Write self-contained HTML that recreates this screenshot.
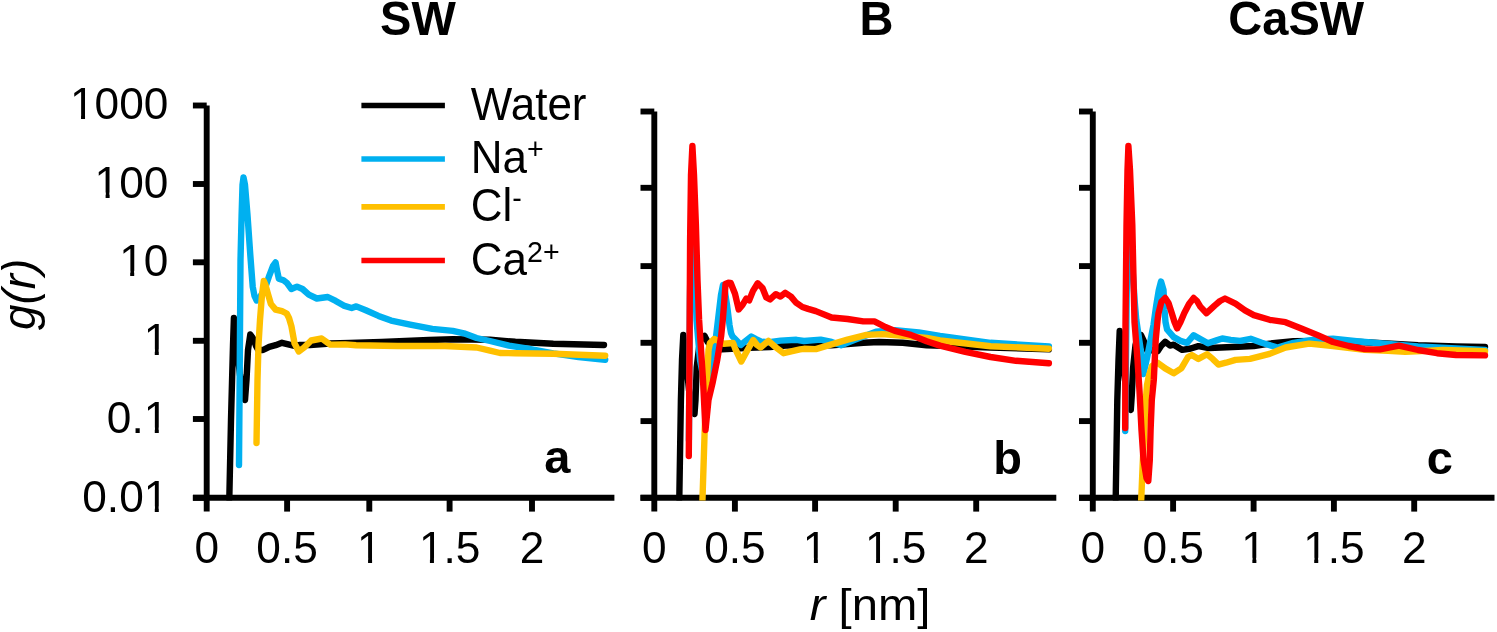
<!DOCTYPE html>
<html><head><meta charset="utf-8"><title>g(r)</title>
<style>
html,body{margin:0;padding:0;background:#fff;width:1497px;height:632px;overflow:hidden;}
svg{display:block;}
text{font-family:"Liberation Sans", sans-serif;fill:#000;}
svg{will-change:transform;}
</style></head><body>
<svg width="1497" height="632" viewBox="0 0 1497 632">
<rect width="1497" height="632" fill="#fff"/>

<path d="M206.7,105.5 L206.7,511.6" stroke="#000" stroke-width="5.9" fill="none"/>
<path d="M192.9,497.8 L614.4,497.8" stroke="#000" stroke-width="5.9" fill="none"/>
<path d="M192.9,105.5 L206.7,105.5" stroke="#000" stroke-width="5.9"/>
<path d="M192.9,184.0 L206.7,184.0" stroke="#000" stroke-width="5.9"/>
<path d="M192.9,262.3 L206.7,262.3" stroke="#000" stroke-width="5.9"/>
<path d="M192.9,340.8 L206.7,340.8" stroke="#000" stroke-width="5.9"/>
<path d="M192.9,419.0 L206.7,419.0" stroke="#000" stroke-width="5.9"/>
<path d="M192.9,497.8 L206.7,497.8" stroke="#000" stroke-width="5.9"/>
<path d="M287.1,497.8 L287.1,511.6" stroke="#000" stroke-width="5.9"/>
<path d="M369.3,497.8 L369.3,511.6" stroke="#000" stroke-width="5.9"/>
<path d="M449.6,497.8 L449.6,511.6" stroke="#000" stroke-width="5.9"/>
<path d="M532.0,497.8 L532.0,511.6" stroke="#000" stroke-width="5.9"/>
<clipPath id="cpa"><rect x="206.7" y="45.5" width="412.7" height="454.9"/></clipPath>
<g clip-path="url(#cpa)" fill="none" stroke-width="6.4" stroke-linejoin="round" stroke-linecap="round">
<polyline points="229.3,499.0 231.0,420.0 233.0,345.0 233.9,318.0 236.0,340.0 240.0,375.0 243.0,395.0 245.0,400.0 246.5,380.0 248.0,350.0 250.3,334.5 253.5,339.0 256.0,346.0 258.2,350.0 263.0,350.0 269.3,346.8 275.6,345.2 282.0,342.8 288.3,344.4 294.6,346.0 300.0,345.0 310.0,345.0 330.0,343.5 350.0,343.0 381.6,342.0 429.1,340.0 452.8,339.3 490.0,339.8 515.3,341.8 553.3,343.7 604.0,345.0" stroke="#000000"/>
<polyline points="239.0,465.0 239.5,400.0 240.0,330.0 240.5,260.0 241.6,215.0 242.5,185.0 243.5,177.5 245.0,185.0 247.5,215.0 250.3,255.0 252.7,286.6 254.5,296.0 256.6,300.5 260.0,297.0 264.5,289.8 269.3,275.6 273.0,266.0 275.6,262.5 277.0,270.0 278.8,278.7 283.5,280.3 286.7,282.7 291.4,289.0 297.0,286.6 302.5,289.0 308.8,294.6 316.8,298.5 327.8,297.0 335.7,300.9 343.7,305.6 351.6,308.0 356.3,306.4 365.8,310.3 378.5,315.9 391.1,320.6 410.1,324.6 432.3,328.9 452.8,330.9 463.9,333.3 476.6,338.0 490.0,341.0 509.0,345.6 528.0,348.7 553.3,353.3 578.6,357.0 605.2,359.7" stroke="#00B0F0"/>
<polyline points="256.5,443.0 257.5,380.0 258.5,345.0 260.0,320.0 262.0,295.0 263.8,281.0 265.5,285.0 267.7,293.0 270.9,304.0 275.6,309.6 282.0,311.2 286.7,313.5 289.0,318.0 291.4,326.2 294.6,343.6 298.8,351.5 304.1,347.5 311.2,340.5 321.7,338.5 330.2,344.6 345.2,344.4 356.0,345.2 397.5,346.0 445.0,346.0 476.6,347.5 490.0,350.6 500.0,353.0 515.3,353.2 553.3,353.8 605.2,355.7" stroke="#FFC000"/>
</g>
<path d="M654.3,111.5 L654.3,511.6" stroke="#000" stroke-width="5.9" fill="none"/>
<path d="M640.5,497.8 L1056.3,497.8" stroke="#000" stroke-width="5.9" fill="none"/>
<path d="M640.5,111.5 L654.3,111.5" stroke="#000" stroke-width="5.9"/>
<path d="M640.5,187.8 L654.3,187.8" stroke="#000" stroke-width="5.9"/>
<path d="M640.5,266.1 L654.3,266.1" stroke="#000" stroke-width="5.9"/>
<path d="M640.5,342.8 L654.3,342.8" stroke="#000" stroke-width="5.9"/>
<path d="M640.5,421.1 L654.3,421.1" stroke="#000" stroke-width="5.9"/>
<path d="M640.5,497.8 L654.3,497.8" stroke="#000" stroke-width="5.9"/>
<path d="M734.9,497.8 L734.9,511.6" stroke="#000" stroke-width="5.9"/>
<path d="M815.1,497.8 L815.1,511.6" stroke="#000" stroke-width="5.9"/>
<path d="M895.7,497.8 L895.7,511.6" stroke="#000" stroke-width="5.9"/>
<path d="M976.2,497.8 L976.2,511.6" stroke="#000" stroke-width="5.9"/>
<clipPath id="cpb"><rect x="654.3" y="51.5" width="407.0" height="448.9"/></clipPath>
<g clip-path="url(#cpb)" fill="none" stroke-width="6.4" stroke-linejoin="round" stroke-linecap="round">
<polyline points="679.3,499.0 680.9,400.0 682.0,360.0 683.3,335.0 686.0,360.0 689.0,390.0 692.0,408.0 694.5,414.0 695.5,400.0 696.7,367.5 699.9,340.6 704.6,336.0 707.8,342.2 712.0,347.0 722.0,349.3 736.3,348.5 749.0,347.7 770.0,347.0 788.5,345.3 804.0,345.5 831.6,345.2 863.3,342.8 879.1,342.0 902.8,342.8 926.6,345.2 950.0,346.0 990.6,347.5 1048.9,349.4" stroke="#000000"/>
<polyline points="688.9,440.0 689.5,360.0 689.9,300.0 690.6,260.0 692.6,235.0 694.5,260.0 696.5,320.0 700.0,360.0 704.0,380.0 708.0,388.0 710.5,380.0 713.3,359.6 718.0,320.0 721.0,295.0 723.0,285.0 725.0,292.0 727.0,305.0 729.5,325.0 731.0,333.0 732.3,336.1 736.0,340.0 740.8,345.0 745.0,341.5 751.3,336.5 756.0,339.0 761.7,341.8 769.5,342.2 780.6,340.6 796.4,339.8 804.0,341.0 820.6,339.6 831.6,342.0 841.1,345.2 855.4,339.6 876.0,331.7 894.9,330.1 918.7,332.5 940.0,335.9 990.6,342.8 1048.9,346.5" stroke="#00B0F0"/>
<polyline points="702.3,505.0 704.6,433.0 706.0,400.0 707.5,370.0 708.5,350.0 710.0,343.0 714.1,339.0 719.0,341.0 723.6,343.7 733.1,343.0 735.1,348.5 741.3,361.5 747.0,351.0 753.2,340.0 757.0,345.0 760.5,347.5 768.4,340.9 776.0,347.5 783.6,353.2 791.2,351.3 800.0,349.4 804.0,348.8 815.8,349.1 831.6,344.4 847.5,339.6 866.5,334.9 882.3,334.1 902.8,335.7 926.6,338.0 940.0,340.5 990.6,346.2 1048.9,348.7" stroke="#FFC000"/>
<polyline points="688.8,456.0 689.2,400.0 689.6,330.0 690.1,240.0 691.0,175.0 692.4,146.0 694.0,175.0 695.9,225.0 697.5,280.0 699.1,320.0 703.0,380.0 705.5,430.0 708.5,400.0 712.5,383.3 717.3,359.6 721.2,335.8 722.8,320.0 724.5,298.5 725.5,284.0 728.0,282.8 730.7,283.0 735.0,293.7 738.7,309.5 742.5,305.0 746.3,298.5 749.2,300.4 753.0,290.9 757.7,283.3 762.5,288.0 766.3,297.5 770.1,299.4 775.8,294.2 780.5,296.6 785.3,292.8 791.0,296.6 795.7,302.3 802.4,307.0 808.1,308.9 815.8,311.1 831.6,317.5 847.5,319.0 863.3,321.4 874.4,321.4 885.4,327.0 894.9,330.9 910.8,334.9 926.6,341.2 940.0,345.6 965.3,351.9 990.6,357.0 1016.0,360.8 1048.9,363.3" stroke="#FF0000"/>
</g>
<path d="M1092.8,111.5 L1092.8,511.6" stroke="#000" stroke-width="5.9" fill="none"/>
<path d="M1079.0,497.8 L1494.5,497.8" stroke="#000" stroke-width="5.9" fill="none"/>
<path d="M1079.0,111.5 L1092.8,111.5" stroke="#000" stroke-width="5.9"/>
<path d="M1079.0,187.8 L1092.8,187.8" stroke="#000" stroke-width="5.9"/>
<path d="M1079.0,266.1 L1092.8,266.1" stroke="#000" stroke-width="5.9"/>
<path d="M1079.0,342.8 L1092.8,342.8" stroke="#000" stroke-width="5.9"/>
<path d="M1079.0,421.1 L1092.8,421.1" stroke="#000" stroke-width="5.9"/>
<path d="M1079.0,497.8 L1092.8,497.8" stroke="#000" stroke-width="5.9"/>
<path d="M1173.1,497.8 L1173.1,511.6" stroke="#000" stroke-width="5.9"/>
<path d="M1253.6,497.8 L1253.6,511.6" stroke="#000" stroke-width="5.9"/>
<path d="M1333.9,497.8 L1333.9,511.6" stroke="#000" stroke-width="5.9"/>
<path d="M1414.2,497.8 L1414.2,511.6" stroke="#000" stroke-width="5.9"/>
<clipPath id="cpc"><rect x="1092.8" y="51.5" width="406.7" height="448.9"/></clipPath>
<g clip-path="url(#cpc)" fill="none" stroke-width="6.4" stroke-linejoin="round" stroke-linecap="round">
<polyline points="1115.7,499.0 1117.3,400.0 1118.5,360.0 1119.7,331.0 1122.0,355.0 1125.0,380.0 1128.0,400.0 1130.8,410.0 1131.8,395.0 1133.1,367.5 1135.5,345.0 1137.9,335.8 1141.0,335.0 1145.0,343.7 1147.4,351.0 1152.0,350.0 1157.6,351.3 1161.0,346.0 1165.2,341.8 1170.0,345.6 1173.7,344.7 1182.3,349.9 1190.8,348.5 1198.4,346.1 1208.9,348.0 1221.2,347.5 1238.0,346.7 1253.8,346.0 1269.6,343.6 1293.4,341.2 1320.0,341.0 1360.0,342.0 1418.0,345.3 1456.0,346.5 1485.0,347.0" stroke="#000000"/>
<polyline points="1125.2,431.0 1125.8,380.0 1126.6,300.0 1127.6,240.0 1129.0,220.0 1130.5,240.0 1132.6,270.0 1134.6,300.0 1136.3,320.0 1141.0,351.6 1143.4,374.0 1147.0,358.0 1150.0,343.0 1153.5,325.0 1156.3,305.0 1158.8,290.0 1161.0,281.5 1163.5,290.0 1164.5,310.0 1165.5,322.0 1167.1,329.5 1173.7,337.1 1180.4,340.9 1187.0,342.8 1193.7,335.2 1200.3,339.0 1207.9,343.3 1216.5,340.4 1222.2,338.5 1230.7,339.9 1240.2,340.9 1250.7,338.8 1261.7,342.8 1277.6,347.5 1293.4,342.8 1314.0,339.6 1333.0,338.8 1356.7,341.2 1388.0,344.0 1418.0,346.5 1456.0,348.5 1485.0,350.0" stroke="#00B0F0"/>
<polyline points="1141.0,505.0 1142.6,466.5 1144.2,431.6 1145.8,400.0 1147.0,385.0 1149.0,375.4 1152.0,366.0 1157.6,362.7 1165.2,368.4 1173.7,373.2 1181.3,368.4 1188.0,357.0 1191.8,355.1 1198.4,358.9 1207.0,354.2 1212.7,358.9 1218.4,364.6 1226.0,362.7 1235.5,359.9 1250.0,358.9 1269.6,353.9 1285.5,347.5 1309.2,343.6 1333.0,346.0 1364.6,349.9 1388.0,350.7 1405.3,351.9 1443.3,350.0 1485.0,351.3" stroke="#FFC000"/>
<polyline points="1125.2,428.0 1125.3,380.0 1125.5,325.0 1126.5,225.0 1127.5,170.0 1128.4,146.0 1130.0,170.0 1132.3,225.0 1134.5,322.0 1137.5,360.0 1139.5,391.0 1141.5,430.0 1143.5,460.0 1146.5,478.0 1148.3,481.0 1149.8,460.0 1150.6,430.0 1151.8,400.0 1153.8,380.0 1155.7,340.0 1157.6,320.0 1158.5,313.2 1161.4,301.8 1165.2,298.0 1168.5,303.0 1171.8,313.2 1174.5,322.0 1177.1,328.4 1180.5,322.0 1184.2,313.2 1189.0,304.0 1193.7,298.0 1197.0,301.0 1200.3,306.6 1206.5,313.2 1214.6,305.6 1220.0,301.0 1225.0,298.5 1235.5,303.7 1245.0,310.4 1253.8,315.1 1269.6,319.8 1285.5,322.2 1301.3,328.5 1317.1,334.9 1333.0,342.0 1348.8,346.0 1364.6,349.1 1380.0,349.4 1399.0,345.6 1418.0,350.0 1437.0,353.2 1456.0,355.0 1485.0,355.4" stroke="#FF0000"/>
</g>
<g transform="matrix(0.442,0,0,0.45,168.30,119.40)"><text font-size="100" text-anchor="end">1000</text><rect x="-217.46" y="-12" width="20.00" height="14" fill="#fff"/><rect x="-188.36" y="-12" width="18.90" height="14" fill="#fff"/></g>
<g transform="matrix(0.442,0,0,0.45,168.30,197.90)"><text font-size="100" text-anchor="end">100</text><rect x="-161.84" y="-12" width="20.00" height="14" fill="#fff"/><rect x="-132.75" y="-12" width="18.90" height="14" fill="#fff"/></g>
<g transform="matrix(0.442,0,0,0.45,168.30,276.20)"><text font-size="100" text-anchor="end">10</text><rect x="-106.23" y="-12" width="20.00" height="14" fill="#fff"/><rect x="-77.13" y="-12" width="18.90" height="14" fill="#fff"/></g>
<g transform="matrix(0.442,0,0,0.45,168.30,354.70)"><text font-size="100" text-anchor="end">1</text><rect x="-50.62" y="-12" width="20.00" height="14" fill="#fff"/><rect x="-21.52" y="-12" width="18.90" height="14" fill="#fff"/></g>
<g transform="matrix(0.442,0,0,0.45,168.30,432.90)"><text font-size="100" text-anchor="end">0.1</text><rect x="-50.61" y="-12" width="20.00" height="14" fill="#fff"/><rect x="-21.51" y="-12" width="18.90" height="14" fill="#fff"/></g>
<g transform="matrix(0.442,0,0,0.45,168.30,511.70)"><text font-size="100" text-anchor="end">0.01</text><rect x="-50.62" y="-12" width="20.00" height="14" fill="#fff"/><rect x="-21.52" y="-12" width="18.90" height="14" fill="#fff"/></g>
<g transform="matrix(0.442,0,0,0.45,206.70,563.20)"><text font-size="100" text-anchor="middle">0</text></g>
<g transform="matrix(0.442,0,0,0.45,287.05,563.20)"><text font-size="100" text-anchor="middle">0.5</text></g>
<g transform="matrix(0.442,0,0,0.45,369.30,563.20)"><text font-size="100" text-anchor="middle">1</text><rect x="-22.81" y="-12" width="20.00" height="14" fill="#fff"/><rect x="6.29" y="-12" width="18.90" height="14" fill="#fff"/></g>
<g transform="matrix(0.442,0,0,0.45,449.60,563.20)"><text font-size="100" text-anchor="middle">1.5</text><rect x="-64.51" y="-12" width="20.00" height="14" fill="#fff"/><rect x="-35.41" y="-12" width="18.90" height="14" fill="#fff"/></g>
<g transform="matrix(0.442,0,0,0.45,532.00,563.20)"><text font-size="100" text-anchor="middle">2</text></g>
<g transform="matrix(0.442,0,0,0.45,654.30,563.20)"><text font-size="100" text-anchor="middle">0</text></g>
<g transform="matrix(0.442,0,0,0.45,734.90,563.20)"><text font-size="100" text-anchor="middle">0.5</text></g>
<g transform="matrix(0.442,0,0,0.45,815.10,563.20)"><text font-size="100" text-anchor="middle">1</text><rect x="-22.81" y="-12" width="20.00" height="14" fill="#fff"/><rect x="6.29" y="-12" width="18.90" height="14" fill="#fff"/></g>
<g transform="matrix(0.442,0,0,0.45,895.70,563.20)"><text font-size="100" text-anchor="middle">1.5</text><rect x="-64.51" y="-12" width="20.00" height="14" fill="#fff"/><rect x="-35.41" y="-12" width="18.90" height="14" fill="#fff"/></g>
<g transform="matrix(0.442,0,0,0.45,976.25,563.20)"><text font-size="100" text-anchor="middle">2</text></g>
<g transform="matrix(0.442,0,0,0.45,1092.80,563.20)"><text font-size="100" text-anchor="middle">0</text></g>
<g transform="matrix(0.442,0,0,0.45,1173.10,563.20)"><text font-size="100" text-anchor="middle">0.5</text></g>
<g transform="matrix(0.442,0,0,0.45,1253.60,563.20)"><text font-size="100" text-anchor="middle">1</text><rect x="-22.81" y="-12" width="20.00" height="14" fill="#fff"/><rect x="6.29" y="-12" width="18.90" height="14" fill="#fff"/></g>
<g transform="matrix(0.442,0,0,0.45,1333.90,563.20)"><text font-size="100" text-anchor="middle">1.5</text><rect x="-64.51" y="-12" width="20.00" height="14" fill="#fff"/><rect x="-35.41" y="-12" width="18.90" height="14" fill="#fff"/></g>
<g transform="matrix(0.442,0,0,0.45,1414.20,563.20)"><text font-size="100" text-anchor="middle">2</text></g>
<text transform="matrix(0.47,0,0,0.475,380.06,35.20)" font-size="100" font-weight="bold">SW</text>
<text transform="matrix(0.47,0,0,0.475,859.38,35.20)" font-size="100" font-weight="bold">B</text>
<text transform="matrix(0.47,0,0,0.475,1228.35,35.20)" font-size="100" font-weight="bold">CaSW</text>
<text transform="matrix(0.47,0,0,0.47,544.34,473.20)" font-size="100" font-weight="bold">a</text>
<text transform="matrix(0.47,0,0,0.47,993.16,473.50)" font-size="100" font-weight="bold">b</text>
<text transform="matrix(0.47,0,0,0.47,1426.70,473.50)" font-size="100" font-weight="bold">c</text>
<text transform="matrix(0.47236,0,0,0.45213,809.76,620.01)" font-size="100" font-weight="normal" font-style="normal"><tspan font-style="italic">r</tspan> [nm]</text>
<text transform="matrix(0,-0.45733,0.46277,0,35.08,330.00)" font-size="100" font-style="italic">g(r)</text>
<path d="M361.4,105.5 L444.9,105.5" stroke="#000000" stroke-width="5.7"/>
<path d="M361.4,159 L444.9,159" stroke="#00B0F0" stroke-width="5.7"/>
<path d="M361.4,206.8 L444.9,206.8" stroke="#FFC000" stroke-width="5.7"/>
<path d="M361.4,260.5 L444.9,260.5" stroke="#FF0000" stroke-width="5.7"/>
<text transform="matrix(0.44,0,0,0.455,470.8,119.6)" font-size="100">Water</text>
<text transform="matrix(0.44,0,0,0.455,470.8,172.6)" font-size="100">Na<tspan font-size="65" dy="-29">+</tspan></text>
<text transform="matrix(0.44,0,0,0.455,470.8,221.1)" font-size="100">Cl<tspan font-size="65" dy="-29">-</tspan></text>
<text transform="matrix(0.44,0,0,0.455,470.8,274.9)" font-size="100">Ca<tspan font-size="65" dy="-29">2+</tspan></text>
</svg>
</body></html>
